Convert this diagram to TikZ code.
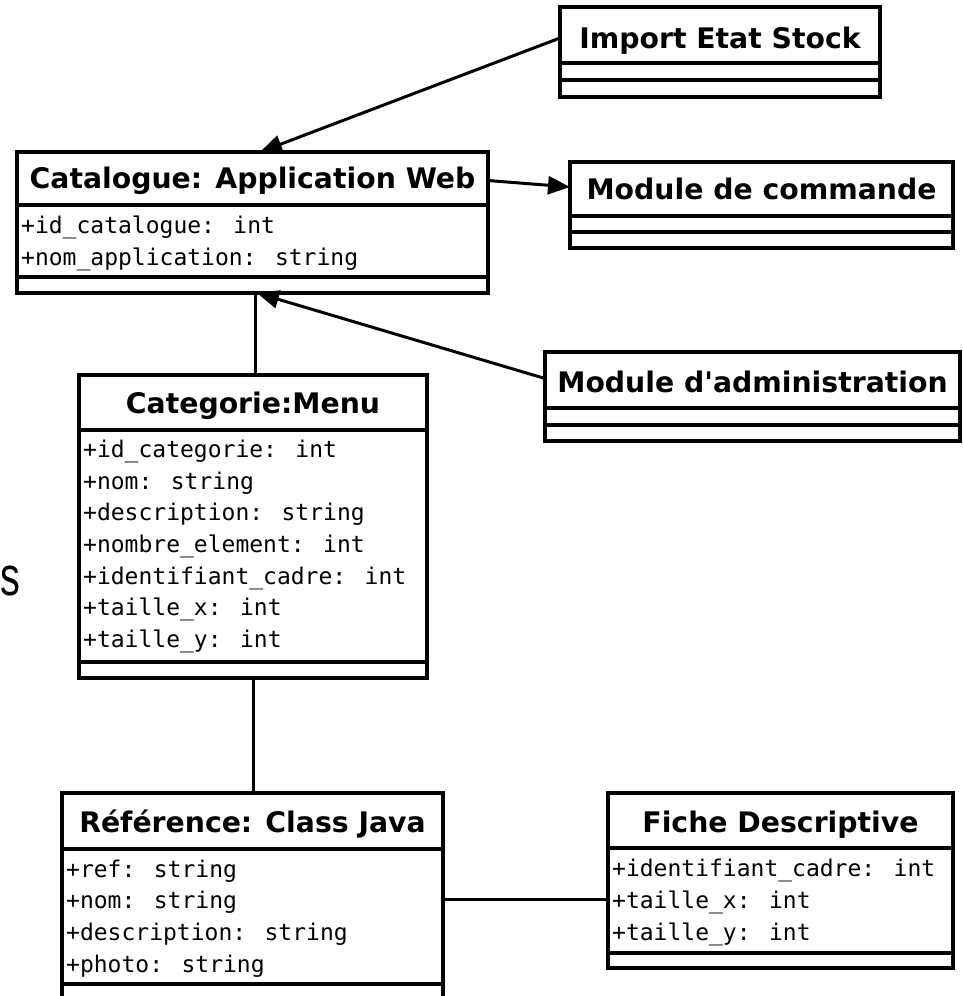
\documentclass[tikz,border=0pt]{standalone}
\usepackage{fontspec}
\usetikzlibrary{arrows.meta}
\newfontfamily\umltitle{DejaVu Sans}
\newfontfamily\umlmono{DejaVu Sans Mono}
\newfontfamily\bigsans{Liberation Sans}

\tikzset{
  classbox/.style={draw, line width=3.5pt, fill=white, rectangle, inner sep=0pt, outer sep=0pt, anchor=north west},
  sepline/.style={line width=3.5pt},
  classtitle/.style={font=\umltitle\bfseries\fontsize{28.3}{31}\selectfont, inner sep=0pt, anchor=base},
  attr/.style={font=\umlmono\fontsize{23}{26}\selectfont, inner sep=0pt, anchor=base west},
  link/.style={line width=3pt},
  navlink/.style={link, -{Triangle[length=22pt,width=18pt]}},
}

\begin{document}
\begin{tikzpicture}[x=1pt,y=-1pt]
\useasboundingbox (0,0) rectangle (962,996);
\clip (0,0) rectangle (962,996);
\fill[white] (0,0) rectangle (962,996);

% large letter on the left margin
\node[font=\bigsans\fontsize{55}{60}\selectfont, inner sep=0pt, anchor=base west, xscale=0.72] (sletter) at (0.2,595) {s};

% Import Etat Stock
\node[classbox, minimum width=320pt, minimum height=90pt] (imp) at (560,7) {};
\draw[sepline] (imp.west |- 0,63) -- (imp.east |- 0,63);
\draw[sepline] (imp.west |- 0,80) -- (imp.east |- 0,80);
\node[classtitle] (impT) at (imp.north |- 0,48) {Import Etat Stock};

% Catalogue: Application Web
\node[classbox, minimum width=471pt, minimum height=141pt] (cat) at (17,152) {};
\draw[sepline] (cat.west |- 0,205) -- (cat.east |- 0,205);
\draw[sepline] (cat.west |- 0,277) -- (cat.east |- 0,277);
\node[classtitle] (catT) at (cat.north |- 0,188) {Catalogue: Application Web};
\node[attr] (catA1) at ([xshift=4pt]cat.west |- 0,233) {+id\_catalogue: int};
\node[attr] (catA2) at ([xshift=4pt]cat.west |- 0,265) {+nom\_application: string};

% Module de commande
\node[classbox, minimum width=383pt, minimum height=86pt] (cmd) at (570,162) {};
\draw[sepline] (cmd.west |- 0,216) -- (cmd.east |- 0,216);
\draw[sepline] (cmd.west |- 0,232) -- (cmd.east |- 0,232);
\node[classtitle] (cmdT) at (cmd.north |- 0,199) {Module de commande};

% Module d'administration
\node[classbox, minimum width=415pt, minimum height=89pt] (adm) at (545,352) {};
\draw[sepline] (adm.west |- 0,408) -- (adm.east |- 0,408);
\draw[sepline] (adm.west |- 0,425) -- (adm.east |- 0,425);
\node[classtitle] (admT) at (adm.north |- 0,392) {Module d'administration};

% Categorie:Menu
\node[classbox, minimum width=348pt, minimum height=303pt] (menu) at (79,375) {};
\draw[sepline] (menu.west |- 0,430) -- (menu.east |- 0,430);
\draw[sepline] (menu.west |- 0,662) -- (menu.east |- 0,662);
\node[classtitle] (menuT) at (menu.north |- 0,413) {Categorie:Menu};
\node[attr] (menuA1) at ([xshift=4pt]menu.west |- 0,457) {+id\_categorie: int};
\node[attr] (menuA2) at ([xshift=4pt]menu.west |- 0,489) {+nom: string};
\node[attr] (menuA3) at ([xshift=4pt]menu.west |- 0,520) {+description: string};
\node[attr] (menuA4) at ([xshift=4pt]menu.west |- 0,552) {+nombre\_element: int};
\node[attr] (menuA5) at ([xshift=4pt]menu.west |- 0,584) {+identifiant\_cadre: int};
\node[attr] (menuA6) at ([xshift=4pt]menu.west |- 0,615) {+taille\_x: int};
\node[attr] (menuA7) at ([xshift=4pt]menu.west |- 0,647) {+taille\_y: int};

% Référence: Class Java
\node[classbox, minimum width=381pt, minimum height=212pt] (ref) at (62,793) {};
\draw[sepline] (ref.west |- 0,849) -- (ref.east |- 0,849);
\draw[sepline] (ref.west |- 0,984) -- (ref.east |- 0,984);
\node[classtitle] (refT) at (ref.north |- 0,832) {Référence: Class Java};
\node[attr] (refA1) at ([xshift=4pt]ref.west |- 0,877) {+ref: string};
\node[attr] (refA2) at ([xshift=4pt]ref.west |- 0,908) {+nom: string};
\node[attr] (refA3) at ([xshift=4pt]ref.west |- 0,940) {+description: string};
\node[attr] (refA4) at ([xshift=4pt]ref.west |- 0,972) {+photo: string};

% Fiche Descriptive
\node[classbox, minimum width=345pt, minimum height=175pt] (fic) at (608,793) {};
\draw[sepline] (fic.west |- 0,848) -- (fic.east |- 0,848);
\draw[sepline] (fic.west |- 0,953) -- (fic.east |- 0,953);
\node[classtitle] (ficT) at (fic.north |- 0,832) {Fiche Descriptive};
\node[attr] (ficA1) at ([xshift=4pt]fic.west |- 0,876) {+identifiant\_cadre: int};
\node[attr] (ficA2) at ([xshift=4pt]fic.west |- 0,908) {+taille\_x: int};
\node[attr] (ficA3) at ([xshift=4pt]fic.west |- 0,940) {+taille\_y: int};

% associations
\draw[navlink] ([yshift=14pt]imp.west) -- ([xshift=7.5pt]cat.north);
\draw[navlink] ([yshift=42pt]cat.east) -- ([yshift=18pt]cmd.west);
\draw[navlink] ([yshift=18pt]adm.west) -- ([xshift=4.5pt]cat.south);
\draw[link] ([xshift=2.5pt]cat.south) -- ([xshift=2.5pt]cat.south |- menu.north);
\draw[link] (menu.south) -- (menu.south |- ref.north);
\draw[link] (ref.east) -- (ref.east -| fic.west);
\end{tikzpicture}
\end{document}
